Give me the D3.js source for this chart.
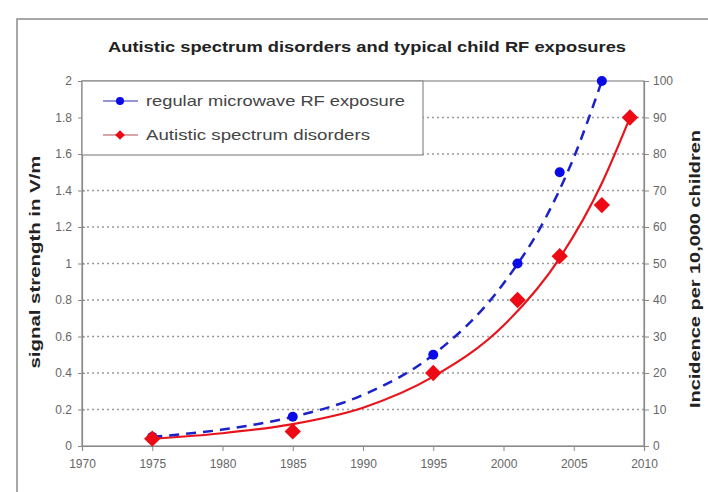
<!DOCTYPE html>
<html>
<head>
<meta charset="utf-8">
<script src="https://cdn.jsdelivr.net/npm/d3@7"></script>
<style>
  body { margin: 0; background: #fff; }
  svg { display: block; font-family: "Liberation Sans", Arial, sans-serif; }
</style>
</head>
<body>
<div id="chart"></div>
<script>
// data
const rfYears = [1975, 1985, 1995, 2001, 2004, 2007];
const rfValues = [0.05, 0.16, 0.5, 1.0, 1.5, 2.0];          // V/m
const asdYears = [1975, 1985, 1995, 2001, 2004, 2007, 2009];
const asdValues = [2, 4, 20, 40, 52, 66, 90];                 // per 10,000

// trend lines (exponential)
const rfTrendYears = [1975, 1980, 1985, 1990, 1995, 2000, 2003, 2005, 2007];
const rfTrendValues = [0.05, 0.09, 0.16, 0.28, 0.5, 0.89, 1.25, 1.58, 2.0];
const asdTrendYears = [1975, 1980, 1985, 1990, 1995, 2000, 2004, 2007, 2009];
const asdTrendValues = [2, 3.5, 6, 10.5, 19, 33, 51.5, 72, 90];

const xTicks = [1970, 1975, 1980, 1985, 1990, 1995, 2000, 2005, 2010];
const leftTicks = [0, 0.2, 0.4, 0.6, 0.8, 1, 1.2, 1.4, 1.6, 1.8, 2];
const rightTicks = [0, 10, 20, 30, 40, 50, 60, 70, 80, 90, 100];

const width = 708, height = 492;
const plot = { left: 82, right: 644, top: 81, bottom: 446 };

const svg = d3.select("#chart").append("svg")
    .attr("width", width)
    .attr("height", height);

// outer chart border (cropped at right/bottom)
svg.append("rect")
    .attr("x", 17).attr("y", 19)
    .attr("width", 720).attr("height", 500)
    .attr("fill", "none")
    .attr("stroke", "#8a8a8a")
    .attr("stroke-width", 1.5);

const x = d3.scaleLinear().domain([1970, 2010]).range([plot.left, plot.right]);
const yL = d3.scaleLinear().domain([0, 2]).range([plot.bottom, plot.top]);
const yR = d3.scaleLinear().domain([0, 100]).range([plot.bottom, plot.top]);

// gridlines
svg.append("g")
    .selectAll("line")
    .data(leftTicks.filter(d => d > 0 && d < 2))
    .join("line")
    .attr("x1", plot.left).attr("x2", plot.right)
    .attr("y1", d => yL(d)).attr("y2", d => yL(d))
    .attr("stroke", "#9a9a9a")
    .attr("stroke-width", 1.5)
    .attr("stroke-dasharray", "2,3");

// plot area border
svg.append("rect")
    .attr("x", plot.left).attr("y", plot.top)
    .attr("width", plot.right - plot.left)
    .attr("height", plot.bottom - plot.top)
    .attr("fill", "none")
    .attr("stroke", "#8a8a8a")
    .attr("stroke-width", 1.2);

// axes
const styleAxis = g => {
    g.select(".domain").attr("stroke", "#8a8a8a").attr("stroke-width", 1.2);
    g.selectAll(".tick line").attr("stroke", "#8a8a8a");
    g.selectAll(".tick text").attr("fill", "#666").style("font-size", "12px");
};

svg.append("g")
    .attr("transform", `translate(0,${plot.bottom})`)
    .call(d3.axisBottom(x).tickValues(xTicks).tickFormat(d3.format("d")).tickSize(5).tickPadding(8))
    .call(styleAxis);

svg.append("g")
    .attr("transform", `translate(${plot.left},0)`)
    .call(d3.axisLeft(yL).tickValues(leftTicks).tickFormat(d => d3.format("~g")(d)).tickSize(4).tickPadding(6))
    .call(styleAxis)
    .call(g => g.selectAll(".tick line").attr("x2", 3).attr("x1", -4));

svg.append("g")
    .attr("transform", `translate(${plot.right},0)`)
    .call(d3.axisRight(yR).tickValues(rightTicks).tickSize(5).tickPadding(4))
    .call(styleAxis);

// title and axis titles
svg.append("text")
    .attr("x", 367).attr("y", 52)
    .attr("text-anchor", "middle")
    .attr("textLength", 518)
    .attr("lengthAdjust", "spacingAndGlyphs")
    .style("font-size", "15px")
    .style("font-weight", "bold")
    .attr("fill", "#222")
    .text("Autistic spectrum disorders and typical child RF exposures");

svg.append("text")
    .attr("transform", "translate(40,262) rotate(-90)")
    .attr("text-anchor", "middle")
    .attr("textLength", 213)
    .attr("lengthAdjust", "spacingAndGlyphs")
    .style("font-size", "14px")
    .style("font-weight", "bold")
    .attr("fill", "#222")
    .text("signal strength in V/m");

svg.append("text")
    .attr("transform", "translate(700,269) rotate(-90)")
    .attr("text-anchor", "middle")
    .attr("textLength", 278)
    .attr("lengthAdjust", "spacingAndGlyphs")
    .style("font-size", "14px")
    .style("font-weight", "bold")
    .attr("fill", "#222")
    .text("Incidence per 10,000 children");

// trend lines
const rfTrend = rfTrendYears.map((d, i) => [d, rfTrendValues[i]]);
const asdTrend = asdTrendYears.map((d, i) => [d, asdTrendValues[i]]);

svg.append("path")
    .datum(asdTrend)
    .attr("fill", "none")
    .attr("stroke", "#e8141c")
    .attr("stroke-width", 2.2)
    .attr("d", d3.line().x(d => x(d[0])).y(d => yR(d[1])).curve(d3.curveMonotoneX));

svg.append("path")
    .datum(rfTrend)
    .attr("fill", "none")
    .attr("stroke", "#1a22c8")
    .attr("stroke-width", 2.5)
    .attr("stroke-dasharray", "10,7")
    .attr("d", d3.line().x(d => x(d[0])).y(d => yL(d[1])).curve(d3.curveMonotoneX));

// markers
const diamond = d3.symbol().type(d3.symbolDiamond2).size(170);

svg.append("g")
    .selectAll("circle")
    .data(rfYears.map((d, i) => [d, rfValues[i]]))
    .join("circle")
    .attr("cx", d => x(d[0]))
    .attr("cy", d => yL(d[1]))
    .attr("r", 5)
    .attr("fill", "#0a0ae6");

svg.append("g")
    .selectAll("path")
    .data(asdYears.map((d, i) => [d, asdValues[i]]))
    .join("path")
    .attr("transform", d => `translate(${x(d[0])},${yR(d[1])})`)
    .attr("d", diamond)
    .attr("fill", "#ee0a14");

// legend
const legend = svg.append("g");
legend.append("rect")
    .attr("x", plot.left).attr("y", plot.top)
    .attr("width", 341).attr("height", 74)
    .attr("fill", "#fff")
    .attr("stroke", "#8a8a8a")
    .attr("stroke-width", 1.2);

const legendItems = [
    { label: "regular microwave RF exposure", color: "#0a0ae6", line: "#2a2ab0", shape: "circle", len: 259 },
    { label: "Autistic spectrum disorders", color: "#ee0a14", line: "#b05050", shape: "diamond", len: 224 }
];

legendItems.forEach((item, i) => {
    const cy = 101 + i * 34;
    legend.append("line")
        .attr("x1", 103).attr("x2", 138)
        .attr("y1", cy).attr("y2", cy)
        .attr("stroke", item.line)
        .attr("stroke-width", 1.2);
    if (item.shape === "circle") {
        legend.append("circle").attr("cx", 120).attr("cy", cy).attr("r", 4).attr("fill", item.color);
    } else {
        legend.append("path")
            .attr("transform", `translate(120,${cy})`)
            .attr("d", d3.symbol().type(d3.symbolDiamond2).size(60))
            .attr("fill", item.color);
    }
    legend.append("text")
        .attr("x", 146).attr("y", cy + 5)
        .attr("textLength", item.len)
        .attr("lengthAdjust", "spacingAndGlyphs")
        .style("font-size", "15px")
        .attr("fill", "#444")
        .text(item.label);
});
</script>
</body>
</html>
